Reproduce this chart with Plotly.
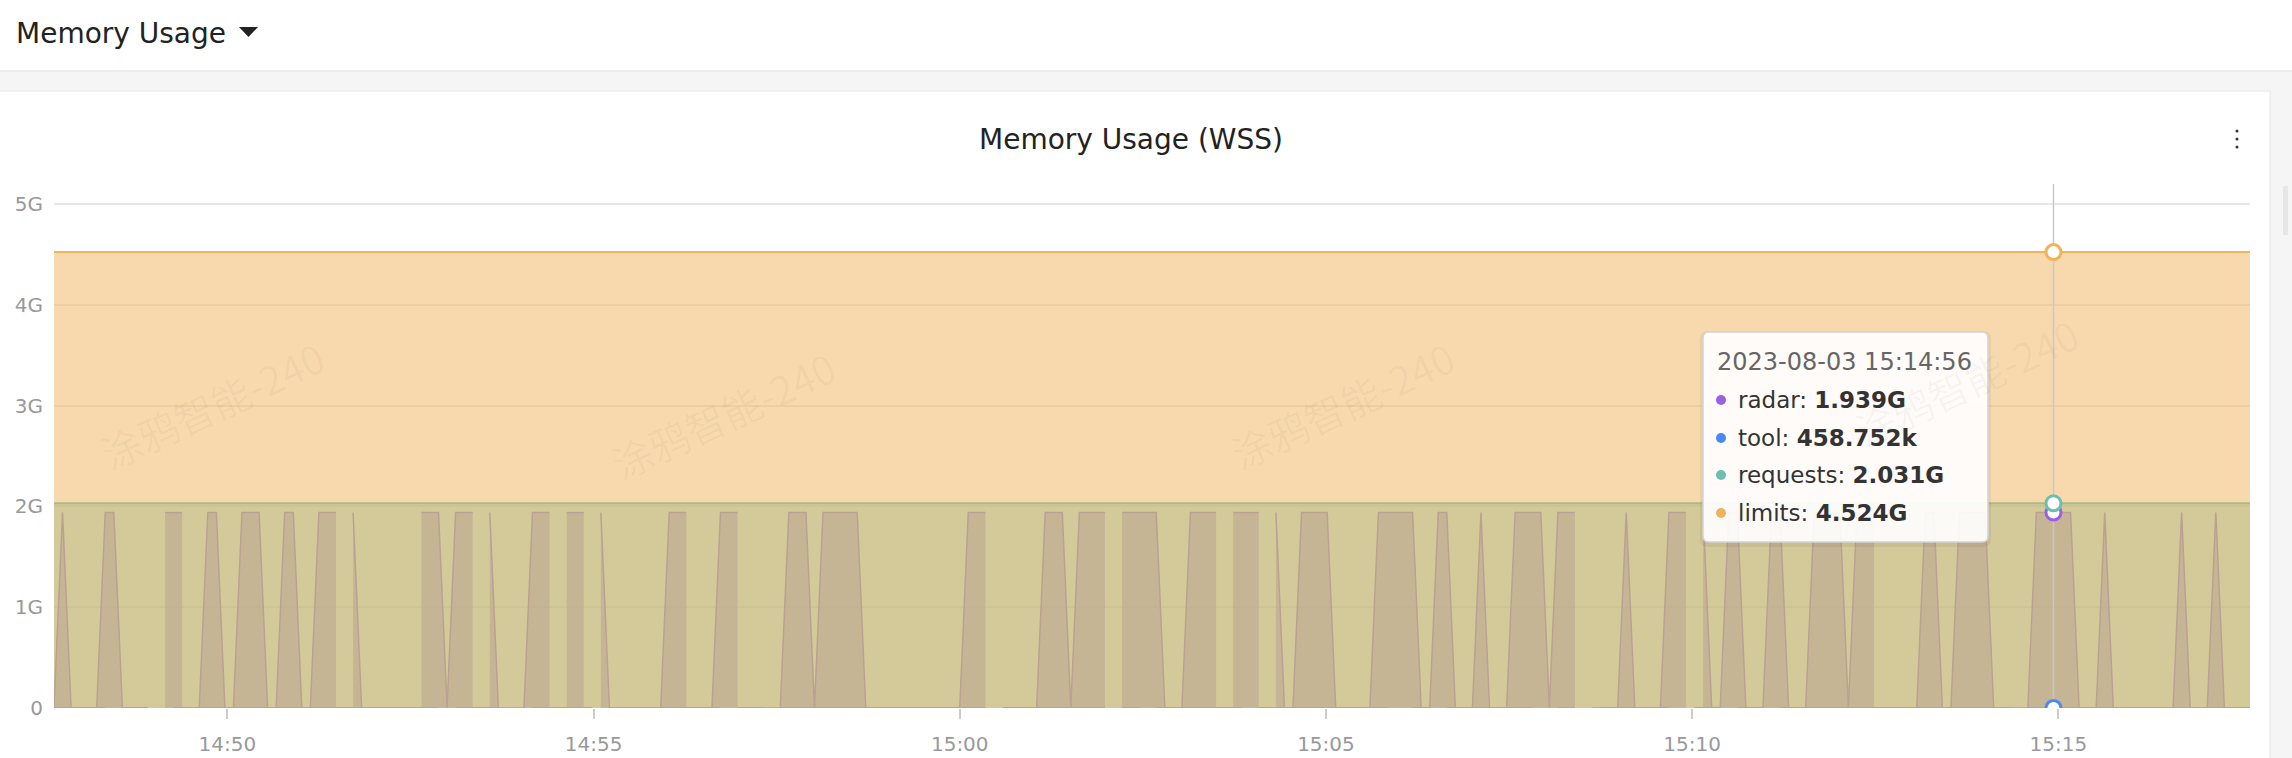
import plotly.graph_objects as go
from datetime import datetime, timedelta

# ---------------- data ----------------
START = datetime(2023, 8, 3, 14, 47, 38)
STEP_S = 7
N_SAMPLES = 258
HOVER_INDEX = 234  # 15:14:56

RADAR_PEAK = 1.939e9
TOOL_VALUE = 458752
REQUESTS_VALUE = 2.031e9
LIMITS_VALUE = 4.524e9

# sample-index runs where radar sits at its peak (all other samples 0)
RADAR_HIGH_RUNS = [(1, 1), (6, 7), (13, 15), (18, 19), (22, 24), (27, 28), (31, 33), (35, 35),
                   (43, 45), (47, 49), (51, 51), (56, 58), (60, 62), (64, 64), (72, 74), (78, 80),
                   (86, 88), (90, 94), (107, 109), (116, 118), (120, 123), (125, 129), (133, 136),
                   (138, 141), (143, 143), (146, 149), (155, 159), (162, 163), (167, 167),
                   (171, 174), (176, 178), (184, 184), (189, 191), (193, 193), (196, 197),
                   (201, 202), (206, 209), (211, 213), (219, 220), (223, 226), (232, 236),
                   (240, 240), (249, 249), (253, 253)]
# samples with no data
RADAR_MISSING = [12, 16, 34, 42, 50, 59, 63, 75, 81, 110, 124, 137, 142, 179, 192, 214]
TOOL_MISSING = [7, 12, 13, 46, 53, 54, 55, 64, 79, 84, 110, 124, 128, 140, 157, 158, 162,
                174, 175, 179, 180, 190, 191, 196, 201, 230]

SERIES_NAMES = ["radar", "tool", "requests", "limits"]
SERIES_LABELS = ["1.939G", "458.752k", "2.031G", "4.524G"]
SERIES_COLORS = ["#9b5fe0", "#4a88f6", "#6dbfb0", "#f0b35b"]
SERIES_FILLS = ["rgba(155,95,224,0.5)", "rgba(74,136,246,0.5)",
                "rgba(109,191,176,0.5)", "rgba(240,179,91,0.5)"]

X_TICKS = ["14:50", "14:55", "15:00", "15:05", "15:10", "15:15"]
Y_TICKS = [0, 1e9, 2e9, 3e9, 4e9, 5e9]
Y_TICK_TEXT = ["0", "1G", "2G", "3G", "4G", "5G"]

WATERMARK = "涂鸦智能-240"

# ---------------- build series ----------------
times = [START + timedelta(seconds=STEP_S * i) for i in range(N_SAMPLES)]
radar = [0.0] * N_SAMPLES
for a, b in RADAR_HIGH_RUNS:
    for i in range(a, b + 1):
        radar[i] = RADAR_PEAK
for i in RADAR_MISSING:
    radar[i] = None
tool = [None if i in TOOL_MISSING else TOOL_VALUE for i in range(N_SAMPLES)]
requests = [REQUESTS_VALUE] * N_SAMPLES
limits = [LIMITS_VALUE] * N_SAMPLES
series = [radar, tool, requests, limits]


def segments(xs, ys):
    """split a series at missing samples so each run is filled on its own"""
    segs, cur = [], []
    for x, y in zip(xs, ys):
        if y is None:
            if cur:
                segs.append(cur)
            cur = []
        else:
            cur.append((x, y))
    if cur:
        segs.append(cur)
    return segs


# ---------------- layout geometry ----------------
W, H = 2292, 758
PL, PR, PT, PB = 54, 2250, 184, 708
Y_MAX = 5.2e9
FONT = "DejaVu Sans"


def px(x):
    return (x - PL) / (PR - PL)


def py(y):
    return (PB - y) / (PB - PT)


fig = go.Figure()

for name, ys, col, fc, w in zip(SERIES_NAMES, series, SERIES_COLORS, SERIES_FILLS, [1.5, 2, 2, 2]):
    for seg in segments(times, ys):
        fig.add_trace(go.Scatter(
            x=[p[0] for p in seg], y=[p[1] for p in seg], name=name, mode="lines",
            line=dict(color=col, width=w),
            fill="tozeroy" if name != "tool" else None,
            fillcolor=fc, hoverinfo="skip", showlegend=False))

t_h = times[HOVER_INDEX]
hover_vals = [series[k][HOVER_INDEX] for k in range(4)]
fig.add_trace(go.Scatter(x=[t_h, t_h], y=[0, Y_MAX], mode="lines",
                         line=dict(color="#c8c8c8", width=1.5),
                         hoverinfo="skip", showlegend=False))
fig.add_trace(go.Scatter(x=[t_h] * 4, y=hover_vals, mode="markers",
                         marker=dict(size=15, color="white",
                                     line=dict(width=3, color=SERIES_COLORS)),
                         hoverinfo="skip", showlegend=False))

shapes = []
# page background pieces
shapes.append(dict(type="rect", xref="paper", yref="paper", layer="below",
                   x0=px(-5), x1=px(W + 5), y0=py(-5), y1=py(70),
                   fillcolor="white", line=dict(width=0)))
shapes.append(dict(type="rect", xref="paper", yref="paper", layer="below",
                   x0=px(-5), x1=px(W + 5), y0=py(70), y1=py(72),
                   fillcolor="#ececec", line=dict(width=0)))
shapes.append(dict(type="rect", xref="paper", yref="paper", layer="below",
                   x0=px(-2), x1=px(2270), y0=py(91), y1=py(H + 2),
                   fillcolor="white", line=dict(width=1, color="#e8e8e8")))
# scrollbar hint at far right
shapes.append(dict(type="rect", xref="paper", yref="paper", layer="below",
                   x0=px(2283), x1=px(2288), y0=py(186), y1=py(235),
                   fillcolor="#e6e6e6", line=dict(width=0)))
# header dropdown triangle
tri = "M {:.5f},{:.5f} L {:.5f},{:.5f} L {:.5f},{:.5f} Z".format(
    px(239), py(27), px(258), py(27), px(248.5), py(37))
shapes.append(dict(type="path", xref="paper", yref="paper", path=tri,
                   fillcolor="#222", line=dict(width=0)))
# three-dot menu
for yy in (131, 139, 147):
    shapes.append(dict(type="circle", xref="paper", yref="paper",
                       x0=px(2235.5), x1=px(2238.5), y0=py(yy - 1.5), y1=py(yy + 1.5),
                       fillcolor="#333", line=dict(width=0)))


def rounded(x0, y0, x1, y1, r):
    pts = [
        f"M {px(x0 + r):.5f},{py(y0):.5f}",
        f"L {px(x1 - r):.5f},{py(y0):.5f}",
        f"Q {px(x1):.5f},{py(y0):.5f} {px(x1):.5f},{py(y0 + r):.5f}",
        f"L {px(x1):.5f},{py(y1 - r):.5f}",
        f"Q {px(x1):.5f},{py(y1):.5f} {px(x1 - r):.5f},{py(y1):.5f}",
        f"L {px(x0 + r):.5f},{py(y1):.5f}",
        f"Q {px(x0):.5f},{py(y1):.5f} {px(x0):.5f},{py(y1 - r):.5f}",
        f"L {px(x0):.5f},{py(y0 + r):.5f}",
        f"Q {px(x0):.5f},{py(y0):.5f} {px(x0 + r):.5f},{py(y0):.5f} Z",
    ]
    return " ".join(pts)


# tooltip box
TB = (1703, 332, 1988, 542)
shapes.append(dict(type="path", xref="paper", yref="paper", layer="above",
                   path=rounded(TB[0] - 3, TB[1] - 1, TB[2] + 3, TB[3] + 5, 8),
                   fillcolor="rgba(0,0,0,0.05)", line=dict(width=0)))
shapes.append(dict(type="path", xref="paper", yref="paper", layer="above",
                   path=rounded(*TB, 6),
                   fillcolor="rgba(255,255,255,0.92)", line=dict(width=1.5, color="#d4d4d4")))
ROW_Y = [400, 438, 475, 513]
for yy, col in zip(ROW_Y, SERIES_COLORS):
    shapes.append(dict(type="circle", xref="paper", yref="paper", layer="above",
                       x0=px(1716), x1=px(1726), y0=py(yy - 5), y1=py(yy + 5),
                       fillcolor=col, line=dict(width=0)))

annotations = []
annotations.append(dict(xref="paper", yref="paper", x=px(14), y=py(33), text="Memory Usage",
                        showarrow=False, xanchor="left", yanchor="middle",
                        font=dict(family=FONT, size=28, color="#222")))
annotations.append(dict(xref="paper", yref="paper", x=px(1131), y=py(139),
                        text="Memory Usage (WSS)", showarrow=False,
                        xanchor="center", yanchor="middle",
                        font=dict(family=FONT, size=28, color="#222")))
for wx, wy in [(212, 405), (723, 415), (1342, 405), (1966, 382)]:
    annotations.append(dict(xref="paper", yref="paper", x=px(wx), y=py(wy), text=WATERMARK,
                            showarrow=False, textangle=-25, xanchor="center", yanchor="middle",
                            font=dict(family="Noto Sans CJK SC", size=40,
                                      color="rgba(0,0,0,0.035)")))
annotations.append(dict(xref="paper", yref="paper", x=px(1715), y=py(362),
                        text=t_h.strftime("%Y-%m-%d %H:%M:%S"), showarrow=False,
                        xanchor="left", yanchor="middle",
                        font=dict(family=FONT, size=24, color="#666")))
for yy, nm, lab in zip(ROW_Y, SERIES_NAMES, SERIES_LABELS):
    annotations.append(dict(xref="paper", yref="paper", x=px(1736), y=py(yy),
                            text=f"{nm}: <b>{lab}</b>", showarrow=False,
                            xanchor="left", yanchor="middle",
                            font=dict(family=FONT, size=23, color="#333")))

tick_dates = [datetime(2023, 8, 3, int(t[:2]), int(t[3:])) for t in X_TICKS]

fig.update_layout(
    width=W, height=H, autosize=False,
    margin=dict(l=PL, r=W - PR, t=PT, b=H - PB, pad=0, autoexpand=False),
    paper_bgcolor="#f5f5f5", plot_bgcolor="rgba(0,0,0,0)",
    shapes=shapes, annotations=annotations,
    font=dict(family=FONT),
    xaxis=dict(type="date", range=[times[0], times[-1]], tickvals=tick_dates,
               ticktext=X_TICKS, showgrid=False, zeroline=False, showline=False,
               ticks="outside", ticklen=10, tickwidth=1.5, tickcolor="#cccccc",
               ticklabelstandoff=8, automargin=False,
               tickfont=dict(family=FONT, size=20, color="#999")),
    yaxis=dict(range=[0, Y_MAX], tickvals=Y_TICKS, ticktext=Y_TICK_TEXT,
               showgrid=True, gridcolor="#e8e8e8", gridwidth=1.5, zeroline=False,
               showline=False, ticks="", ticklabelstandoff=10, automargin=False,
               tickfont=dict(family=FONT, size=20, color="#999")),
)

fig.write_html("out.html", config={"displayModeBar": False},
               post_script="document.body.style.margin='0';document.body.style.overflow='hidden';")
